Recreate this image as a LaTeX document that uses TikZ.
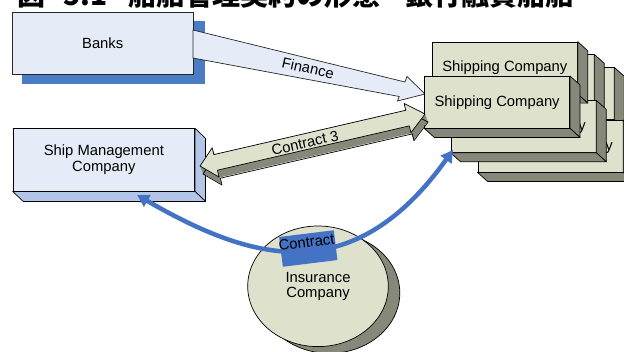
\documentclass[tikz,border=0pt]{standalone}
\usepackage{fontspec}
\setmainfont{Liberation Sans}
\newfontfamily\cjk{Noto Sans CJK JP}
\usetikzlibrary{calc,shapes.geometric,arrows.meta}
\definecolor{lightblue}{HTML}{E6ECF7}
\definecolor{sideblue}{HTML}{B4C6E7}
\definecolor{oliveL}{HTML}{DEE2CC}
\definecolor{oliveD}{HTML}{86887A}
\definecolor{bluemain}{HTML}{4472C4}
\definecolor{shadowblue}{HTML}{4A7CC5}
\newcommand{\shipbox}[4]{%
  \node[shipface] (#1) at (#2,#3) {#4};
  \filldraw[extr] (#1.north east) -- ++(10,9) -- ($(#1.south east)+(10,9)$) -- (#1.south east) -- cycle;
  \filldraw[extr] (#1.south west) -- ($(#1.south west)+(10,9)$) -- ($(#1.south east)+(10,9)$) -- (#1.south east) -- cycle;
}
\begin{document}
\begin{tikzpicture}[x=1pt,y=-1pt,
  every node/.style={font=\fontsize{14.8}{15.5}\selectfont},
  shipface/.style={draw=black, line width=0.7pt, fill=oliveL, minimum width=145pt,
    minimum height=51.7pt, inner sep=0pt, anchor=north west},
  extr/.style={fill=oliveD, draw=black, line width=0.7pt, line join=round},
  bluebox/.style={draw=black, line width=0.7pt, fill=lightblue, inner sep=0pt,
    anchor=north west, align=center},
  sidefill/.style={fill=sideblue, draw=black, line width=0.7pt, line join=round},
  bluearrow/.style={draw=bluemain, line width=4.5pt,
    {Triangle[length=12pt,width=13pt]}-{Triangle[length=12pt,width=13pt]}}]
\useasboundingbox (0,0) rectangle (624,351);
\clip (0,0) rectangle (624,351);

% title (cropped at the top)
\node[anchor=base west, inner sep=0pt, font=\cjk\bfseries\fontsize{28}{28}\selectfont] (title) at (17,5)
  {\makebox[111pt][l]{図\hspace{12pt} 5.1}船舶管理契約の形態—銀行融資船舶};

% Banks
\fill[shadowblue] (22,21) rectangle (205,84);
\node[bluebox, draw=black!85, minimum width=181.3pt, minimum height=62.3pt] (banks) at (11.7,11.7) {Banks};
% Finance arrow
\filldraw[fill=lightblue, draw=black!85, line width=0.7pt, line join=miter]
  (193,30) -- (405,82) -- (407,76.5) -- (425,94) -- (397.5,101) -- (399.2,96.5) -- (193,58) -- cycle;
\node[rotate=-12.5] (fin) at (308,68) {Finance};

% Shipping companies
\shipbox{C}{468.5}{67.3}{}
\shipbox{B}{448.5}{54.3}{}
\shipbox{E}{477.5}{120}{Shipping Company}
\shipbox{D}{450.5}{100.3}{Shipping Company}
\shipbox{A}{432}{41.7}{Shipping Company}
\shipbox{F}{424.3}{76}{Shipping Company}

% Ship Management Company
\node[bluebox, minimum width=181.6pt, minimum height=62.4pt] (smc) at (12.7,128.3) {Ship Management\\Company};
\filldraw[sidefill] (smc.north east) -- ++(10.5,10) -- ($(smc.south east)+(10.5,10)$) -- (smc.south east) -- cycle;
\filldraw[sidefill] (smc.south west) -- ($(smc.south west)+(10.5,10)$) -- ($(smc.south east)+(10.5,10)$) -- (smc.south east) -- cycle;

% Contract 3 double arrow (3D)
\foreach \s in {0,0.1,...,1} {
  \begin{scope}[shift={({200+3*\s},{166+8*\s})}, rotate=13]
    \fill[oliveD] (0,0) -- (16,-15) -- (16,-8) -- (213,-8) -- (213,-15) -- (231,0) -- (213,15) -- (213,8) -- (16,8) -- (16,15) -- cycle;
  \end{scope}
}
\begin{scope}[shift={(203,174)}, rotate=13]
  \draw[black, line width=0.7pt, line join=round] (0,0) -- (16,-15) -- (16,-8) -- (213,-8) -- (213,-15) -- (231,0) -- (213,15) -- (213,8) -- (16,8) -- (16,15) -- cycle;
\end{scope}
\begin{scope}[shift={(200,166)}, rotate=13]
  \filldraw[fill=oliveL, draw=black, line width=0.7pt, line join=round] (0,0) -- (16,-15) -- (16,-8) -- (213,-8) -- (213,-15) -- (231,0) -- (213,15) -- (213,8) -- (16,8) -- (16,15) -- cycle;
\end{scope}
\node[rotate=13] (c3) at (305,143) {Contract 3};

% Insurance Company
\filldraw[fill=oliveD, draw=black, line width=0.7pt] (329.5,293) ellipse [x radius=70.3, y radius=60.3];
\node[ellipse, draw=black, line width=0.7pt, fill=oliveL, minimum width=140.6pt, minimum height=120.6pt,
  align=center, inner sep=0pt] (ins) at (318,286.3) {Insurance\\Company};

% blue contract arc
\coordinate (lend) at (137,195);
\coordinate (rend) at (453,150);
\draw[bluearrow] (lend) .. controls (251,260.9) and (352.2,290.8) .. (rend);
\node[fill=bluemain, rotate=7, minimum width=55pt, minimum height=30pt, inner sep=0pt] (cbox) at (308.3,248.5) {};
\node[rotate=7, inner sep=0pt] (ctext) at (306.5,242) {Contract};
\end{tikzpicture}
\end{document}
